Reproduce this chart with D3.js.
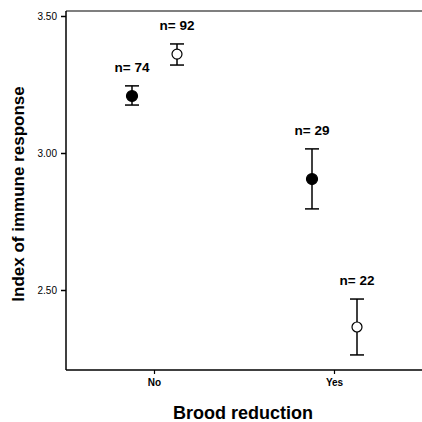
<!DOCTYPE html>
<html><head><meta charset="utf-8">
<script src="https://cdn.jsdelivr.net/npm/d3@7"></script>
<style>body{margin:0;background:#fff}svg{display:block}</style>
</head><body><svg id="c" width="422" height="422"></svg>
<script>
const categories = ["No", "Yes"];
const groups = ["filled", "open"];
const means = {No: [3.208, 3.361], Yes: [2.905, 2.365]};
const upper = {No: [3.245, 3.398], Yes: [3.015, 2.467]};
const lower = {No: [3.175, 3.321], Yes: [2.796, 2.263]};
const ns = {No: [74, 92], Yes: [29, 22]};
const yTicks = [2.5, 3.0, 3.5];

const svg = d3.select("#c");
const L = 66, R = 422, T = 11, B = 370;
const x = d3.scalePoint().domain(categories).range([154, 334]);
const off = d3.scaleOrdinal().domain(groups).range([-22, 23]);
const y = d3.scaleLinear().domain([2.5, 3.5]).range([290, 16]);

const font = "Arial, 'Liberation Sans', sans-serif";
// frame
svg.append("line").attr("x1", L).attr("x2", R).attr("y1", T).attr("y2", T).attr("stroke", "#000").attr("stroke-width", 1.2);
svg.append("line").attr("x1", L).attr("x2", L).attr("y1", T).attr("y2", B).attr("stroke", "#000").attr("stroke-width", 1.5);
svg.append("line").attr("x1", L).attr("x2", R).attr("y1", B).attr("y2", B).attr("stroke", "#000").attr("stroke-width", 1.5);

// y axis
const ya = svg.append("g").attr("transform", `translate(${L},0)`)
  .call(d3.axisLeft(y).tickValues(yTicks).tickFormat(d3.format(".2f")).tickSize(5).tickPadding(4));
ya.select(".domain").remove();
ya.selectAll("text").attr("font-family", font).attr("font-size", 10).attr("fill", "#000");
ya.selectAll("line").attr("stroke-width", 1.5);

// x axis
const xa = svg.append("g").attr("transform", `translate(0,${B})`)
  .call(d3.axisBottom(x).tickSize(4).tickPadding(5));
xa.select(".domain").remove();
xa.selectAll("text").attr("font-family", font).attr("font-size", 10).attr("font-weight", "bold").attr("fill", "#000");
xa.selectAll("line").attr("stroke-width", 1.2);

// data
const rows = [];
categories.forEach(c => groups.forEach((g, i) => rows.push({c, g, m: means[c][i], u: upper[c][i], l: lower[c][i], n: ns[c][i]})));
const cx = d => x(d.c) + off(d.g);
const pts = svg.append("g").selectAll("g").data(rows).join("g");
pts.append("line").attr("x1", cx).attr("x2", cx).attr("y1", d => y(d.u)).attr("y2", d => y(d.l)).attr("stroke", "#000").attr("stroke-width", 1.5);
pts.append("line").attr("x1", d => cx(d) - 7).attr("x2", d => cx(d) + 7).attr("y1", d => y(d.u)).attr("y2", d => y(d.u)).attr("stroke", "#000").attr("stroke-width", 1.5);
pts.append("line").attr("x1", d => cx(d) - 7).attr("x2", d => cx(d) + 7).attr("y1", d => y(d.l)).attr("y2", d => y(d.l)).attr("stroke", "#000").attr("stroke-width", 1.5);
pts.append("circle").attr("cx", cx).attr("cy", d => y(d.m)).attr("r", d => d.g === "filled" ? 5.5 : 5)
  .attr("fill", d => d.g === "filled" ? "#000" : "#fff").attr("stroke", "#000").attr("stroke-width", 1.2);
pts.append("text").attr("x", cx).attr("y", d => y(d.u) - 14).attr("text-anchor", "middle")
  .attr("font-family", font).attr("font-size", 13.5).attr("font-weight", "bold").text(d => "n= " + d.n);

// titles
svg.append("text").attr("transform", "translate(24,194) rotate(-90)").attr("text-anchor", "middle")
  .attr("font-family", font).attr("font-size", 17).attr("font-weight", "bold").text("Index of immune response");
svg.append("text").attr("x", 243).attr("y", 419).attr("text-anchor", "middle")
  .attr("font-family", font).attr("font-size", 18).attr("font-weight", "bold").text("Brood reduction");
</script></body></html>
